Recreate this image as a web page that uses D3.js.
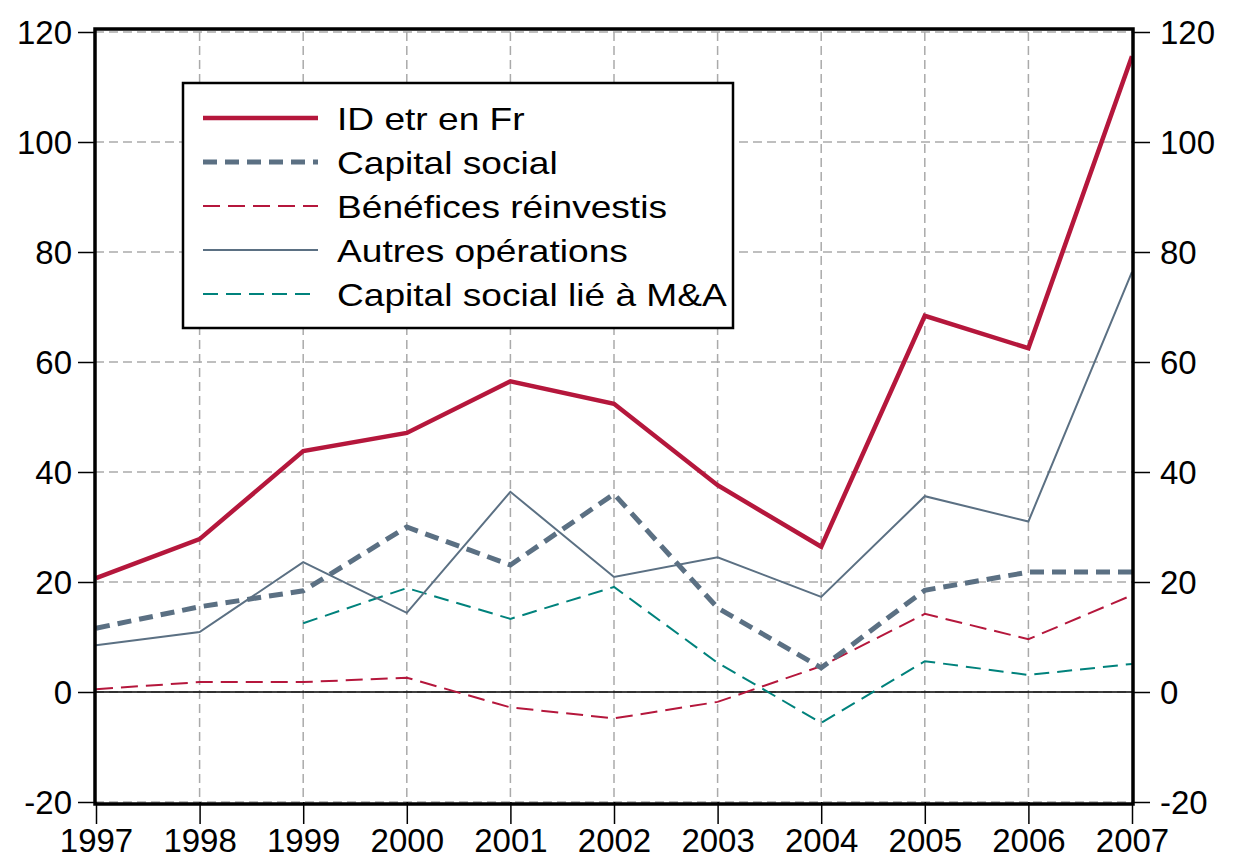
<!DOCTYPE html>
<html>
<head>
<meta charset="utf-8">
<script src="https://cdn.jsdelivr.net/npm/d3@7"></script>
<style>
  body { margin: 0; background: #fff; }
  text { font-family: "Liberation Sans", Arial, sans-serif; }
</style>
</head>
<body>
<svg id="chart" width="1236" height="861"></svg>
<script>
// data
var years = [1997, 1998, 1999, 2000, 2001, 2002, 2003, 2004, 2005, 2006, 2007];
var idEtr = [20.7, 27.8, 43.8, 47.1, 56.5, 52.4, 37.6, 26.4, 68.4, 62.5, 115.6];
var capSocial = [11.6, 15.5, 18.4, 30.0, 23.1, 36.0, 15.3, 4.4, 18.5, 21.8, 21.8];
var benefices = [0.5, 1.8, 1.8, 2.6, -2.8, -4.8, -1.8, 4.7, 14.2, 9.6, 17.6];
var autres = [8.5, 10.9, 23.6, 14.4, 36.4, 20.9, 24.5, 17.3, 35.6, 31.0, 76.4];
var capMA = [null, null, 12.5, 18.9, 13.3, 19.1, 5.3, -5.6, 5.6, 3.1, 5.1];
var yTicks = [-20, 0, 20, 40, 60, 80, 100, 120];
var labels = ["ID etr en Fr", "Capital social", "Bénéfices réinvestis", "Autres opérations", "Capital social lié à M&A"];

var red = "#b5173c", slate = "#5b7083", teal = "#00827c";

var series = [
  {name: labels[0], values: idEtr, color: red, width: 4.5, dash: null},
  {name: labels[1], values: capSocial, color: slate, width: 5, dash: "14,8"},
  {name: labels[2], values: benefices, color: red, width: 2, dash: "17,8"},
  {name: labels[3], values: autres, color: slate, width: 2, dash: null},
  {name: labels[4], values: capMA, color: teal, width: 2, dash: "15,8"}
];

var svg = d3.select("#chart");
var x0 = 95, x1 = 1133, yTop = 32, yBot = 802;

var x = d3.scaleLinear().domain([1997, 2007]).range([96, 1132]);
var y = d3.scaleLinear().domain([-20, 120]).range([yBot, yTop]);

// grid
svg.append("g").selectAll("line")
  .data(yTicks)
  .enter().append("line")
  .attr("x1", x0).attr("x2", x1)
  .attr("y1", d => y(d)).attr("y2", d => y(d))
  .attr("stroke", "#aaaaaa").attr("stroke-width", 1.5)
  .attr("stroke-dasharray", "9,5");

svg.append("g").selectAll("line")
  .data(years.slice(1, -1))
  .enter().append("line")
  .attr("x1", d => x(d)).attr("x2", d => x(d))
  .attr("y1", yTop).attr("y2", yBot)
  .attr("stroke", "#aaaaaa").attr("stroke-width", 1.5)
  .attr("stroke-dasharray", "9,5");

// zero line
svg.append("line")
  .attr("x1", x0).attr("x2", x1)
  .attr("y1", y(0)).attr("y2", y(0))
  .attr("stroke", "#000").attr("stroke-width", 1.5);

// axes
var fmt = d => String(d);
var yAxisL = d3.axisLeft(y).tickValues(yTicks).tickFormat(fmt).tickSize(17).tickPadding(6);
var yAxisR = d3.axisRight(y).tickValues(yTicks).tickFormat(fmt).tickSize(17).tickPadding(10);
var xAxis = d3.axisBottom(x).tickValues(years).tickFormat(fmt).tickSize(22).tickPadding(4);

function styleAxis(g) {
  g.select(".domain").remove();
  g.selectAll(".tick line").attr("stroke", "#000").attr("stroke-width", 1.5);
  g.selectAll(".tick text").attr("font-size", 33).attr("fill", "#000")
    .style("font-family", "'Liberation Sans', Arial, sans-serif");
}

svg.append("g").attr("transform", "translate(" + x0 + ",0)").call(yAxisL).call(styleAxis)
  .selectAll(".tick text").attr("dy", "0.36em");
svg.append("g").attr("transform", "translate(" + x1 + ",0)").call(yAxisR).call(styleAxis)
  .selectAll(".tick text").attr("dy", "0.36em");
svg.append("g").attr("transform", "translate(0," + yBot + ")").call(xAxis).call(styleAxis)
  .selectAll(".tick text").attr("dy", "0.72em");

// lines
var line = d3.line()
  .defined(d => d[1] !== null)
  .x(d => x(d[0]))
  .y(d => y(d[1]));

var drawOrder = [4, 2, 3, 1, 0];
drawOrder.forEach(function(i) {
  var s = series[i];
  svg.append("path")
    .datum(years.map((yr, k) => [yr, s.values[k]]))
    .attr("d", line)
    .attr("fill", "none")
    .attr("stroke", s.color)
    .attr("stroke-width", s.width)
    .attr("stroke-dasharray", s.dash)
    .attr("stroke-linejoin", "miter");
});

// frame
svg.append("rect")
  .attr("x", x0).attr("y", 29)
  .attr("width", x1 - x0).attr("height", 804 - 29)
  .attr("fill", "none").attr("stroke", "#000").attr("stroke-width", 3.5);

// legend
var lg = svg.append("g").attr("transform", "translate(183,83)");
lg.append("rect")
  .attr("width", 550).attr("height", 245)
  .attr("fill", "#fff").attr("stroke", "#000").attr("stroke-width", 2.5);

var rows = lg.selectAll("g.row")
  .data(series)
  .enter().append("g")
  .attr("transform", (d, i) => "translate(0," + (35 + i * 44) + ")");

rows.append("line")
  .attr("x1", 20).attr("x2", 135)
  .attr("stroke", d => d.color)
  .attr("stroke-width", d => d.width)
  .attr("stroke-dasharray", d => d.dash);

// legend text is drawn a bit wider than the axis labels
rows.append("text")
  .attr("transform", "translate(154,0) scale(1.16,1)")
  .attr("dy", "0.36em")
  .attr("font-size", 32)
  .text(d => d.name);
</script>
</body>
</html>
